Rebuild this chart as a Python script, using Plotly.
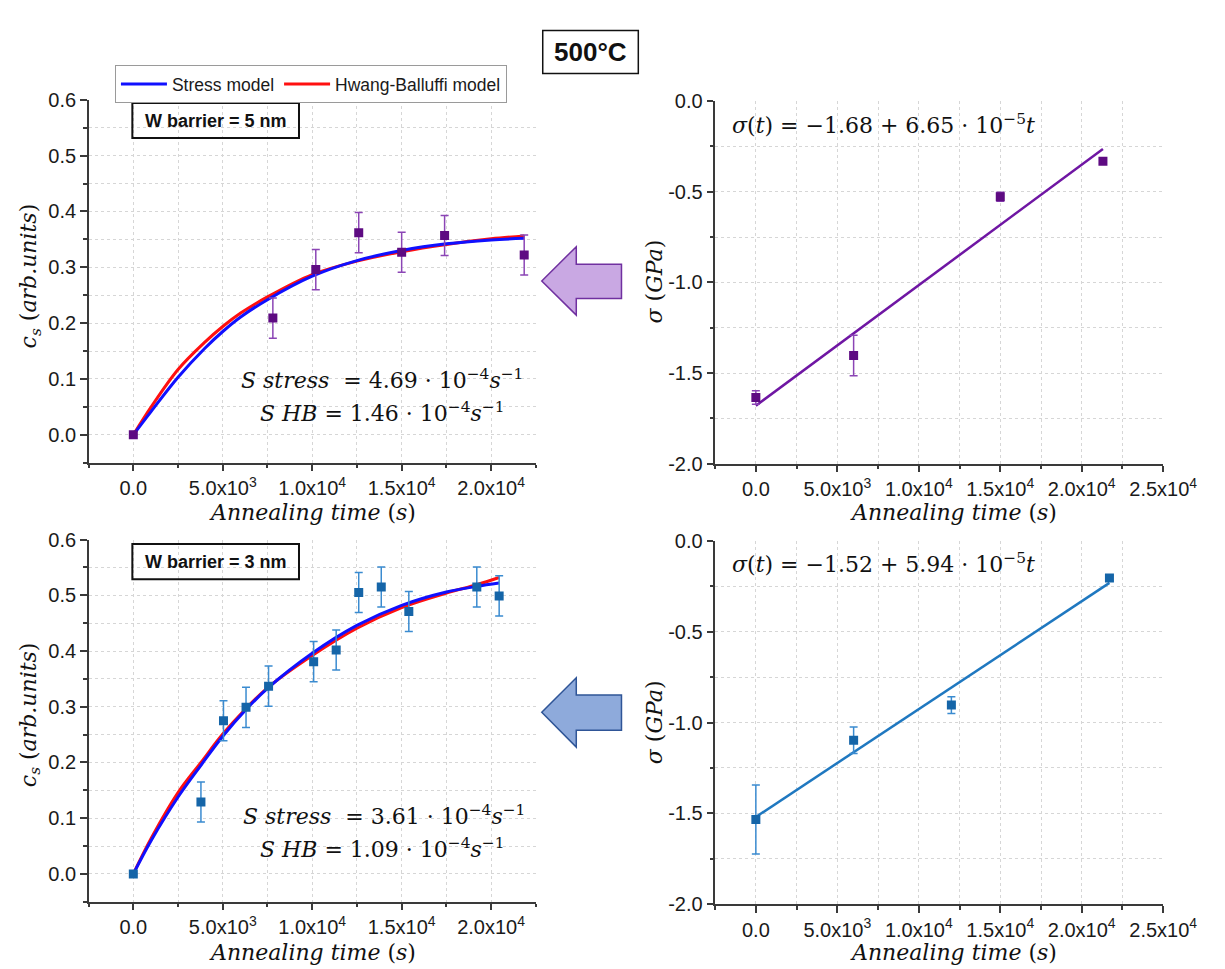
import plotly.graph_objects as go

# ---------------- data ----------------
# top-left: W barrier = 5 nm, c_s vs annealing time
tl_t = [0, 7800, 10200, 12600, 15000, 17400, 21850]
tl_c = [0.0, 0.209, 0.296, 0.362, 0.327, 0.357, 0.322]
tl_err = [0.0, 0.036, 0.036, 0.036, 0.036, 0.036, 0.036]
tl_model_t = [0, 1000, 2500, 4000, 5000, 6000, 7500, 10000, 12500, 15000, 17500, 20000, 21850]
tl_stress = [0.0, 0.042, 0.103, 0.155, 0.185, 0.211, 0.242, 0.284, 0.312, 0.330, 0.342, 0.349, 0.352]
tl_hb = [0.0, 0.050, 0.117, 0.166, 0.194, 0.218, 0.247, 0.287, 0.311, 0.328, 0.341, 0.351, 0.356]

# top-right: stress vs annealing time (5 nm)
tr_t = [0, 6000, 15000, 21300]
tr_sigma = [-1.635, -1.403, -0.528, -0.332]
tr_err = [0.037, 0.112, 0.025, 0.015]
tr_fit_t = [0, 21300]
tr_fit_sigma = [-1.68, -0.264]

# bottom-left: W barrier = 3 nm
bl_t = [0, 3780, 5040, 6300, 7560, 10080, 11340, 12600, 13860, 15400, 19200, 20450]
bl_c = [0.0, 0.129, 0.275, 0.299, 0.337, 0.381, 0.402, 0.505, 0.515, 0.471, 0.515, 0.499]
bl_err = [0.0, 0.036, 0.036, 0.036, 0.036, 0.036, 0.036, 0.036, 0.036, 0.036, 0.036, 0.036]
bl_model_t = [0, 1000, 2500, 3780, 5000, 6300, 7500, 10000, 12500, 15000, 17500, 19200, 20450]
bl_stress = [0.0, 0.060, 0.138, 0.195, 0.247, 0.295, 0.333, 0.396, 0.446, 0.482, 0.506, 0.516, 0.522]
bl_hb = [0.0, 0.064, 0.146, 0.200, 0.251, 0.297, 0.334, 0.392, 0.441, 0.478, 0.504, 0.519, 0.532]

# bottom-right: stress vs annealing time (3 nm)
br_t = [0, 6000, 12000, 21700]
br_sigma = [-1.534, -1.098, -0.904, -0.205]
br_err = [0.19, 0.073, 0.046, 0.015]
br_fit_t = [0, 21700]
br_fit_sigma = [-1.52, -0.231]

# tick labels
x_tickvals_left = [0, 5000, 10000, 15000, 20000]
x_ticktext_left = ["0.0", "5.0x10<sup>3</sup>", "1.0x10<sup>4</sup>", "1.5x10<sup>4</sup>", "2.0x10<sup>4</sup>"]
x_tickvals_right = [0, 5000, 10000, 15000, 20000, 25000]
x_ticktext_right = x_ticktext_left + ["2.5x10<sup>4</sup>"]
y_tickvals_left = [0.0, 0.1, 0.2, 0.3, 0.4, 0.5, 0.6]
y_ticktext_left = ["0.0", "0.1", "0.2", "0.3", "0.4", "0.5", "0.6"]
y_tickvals_right = [0.0, -0.5, -1.0, -1.5, -2.0]
y_ticktext_right = ["0.0", "-0.5", "-1.0", "-1.5", "-2.0"]

# ---------------- styling ----------------
W, H = 1225, 969
def px(x):
    return x / W
def py(y):
    return 1 - y / H

PURPLE_M = "#5e0b82"
PURPLE_E = "#8b45b5"
PURPLE_L = "#6f16a3"
BLUE_M = "#1565a8"
BLUE_E = "#3a8bd0"
BLUE_L = "#1f78c0"
C_STRESS = "#1010ff"
C_HB = "#ff1010"
SANS = "Liberation Sans, Arial, sans-serif"
SERIF = "DejaVu Serif, serif"

fig = go.Figure()

# top-left
fig.add_trace(go.Scatter(x=tl_model_t, y=tl_hb, mode="lines", line=dict(color=C_HB, width=3, shape="spline", smoothing=1.0),
                         name="Hwang-Balluffi model", legendrank=2, xaxis="x", yaxis="y"))
fig.add_trace(go.Scatter(x=tl_model_t, y=tl_stress, mode="lines", line=dict(color=C_STRESS, width=3, shape="spline", smoothing=1.0),
                         name="Stress model", legendrank=1, xaxis="x", yaxis="y"))
fig.add_trace(go.Scatter(x=tl_t, y=tl_c, mode="markers", marker=dict(symbol="square", size=9, color=PURPLE_M),
                         error_y=dict(type="data", array=tl_err, color=PURPLE_E, thickness=1.5, width=4),
                         showlegend=False, xaxis="x", yaxis="y"))
# top-right
fig.add_trace(go.Scatter(x=tr_fit_t, y=tr_fit_sigma, mode="lines", line=dict(color=PURPLE_L, width=2.5),
                         showlegend=False, xaxis="x2", yaxis="y2"))
fig.add_trace(go.Scatter(x=tr_t, y=tr_sigma, mode="markers", marker=dict(symbol="square", size=9, color=PURPLE_M),
                         error_y=dict(type="data", array=tr_err, color=PURPLE_E, thickness=1.5, width=4),
                         showlegend=False, xaxis="x2", yaxis="y2"))
# bottom-left
fig.add_trace(go.Scatter(x=bl_model_t, y=bl_hb, mode="lines", line=dict(color=C_HB, width=3, shape="spline", smoothing=1.0),
                         showlegend=False, xaxis="x3", yaxis="y3"))
fig.add_trace(go.Scatter(x=bl_model_t, y=bl_stress, mode="lines", line=dict(color=C_STRESS, width=3, shape="spline", smoothing=1.0),
                         showlegend=False, xaxis="x3", yaxis="y3"))
fig.add_trace(go.Scatter(x=bl_t, y=bl_c, mode="markers", marker=dict(symbol="square", size=9, color=BLUE_M),
                         error_y=dict(type="data", array=bl_err, color=BLUE_E, thickness=1.5, width=4),
                         showlegend=False, xaxis="x3", yaxis="y3"))
# bottom-right
fig.add_trace(go.Scatter(x=br_fit_t, y=br_fit_sigma, mode="lines", line=dict(color=BLUE_L, width=2.5),
                         showlegend=False, xaxis="x4", yaxis="y4"))
fig.add_trace(go.Scatter(x=br_t, y=br_sigma, mode="markers", marker=dict(symbol="square", size=9, color=BLUE_M),
                         error_y=dict(type="data", array=br_err, color=BLUE_E, thickness=1.5, width=4),
                         showlegend=False, xaxis="x4", yaxis="y4"))


def axis(domain, rng, tickvals, ticktext, minor_dtick, minor_tick0, anchor):
    return dict(
        domain=domain, range=rng, anchor=anchor,
        tickmode="array", tickvals=tickvals, ticktext=ticktext,
        showline=True, linecolor="#3a3a3a", linewidth=2,
        ticks="outside", ticklen=6.5, tickwidth=1.5, tickcolor="#3a3a3a",
        showgrid=False, zeroline=False,
        tickfont=dict(family=SANS, size=20, color="#1a1a1a"),
        minor=dict(ticks="outside", ticklen=3.5, tickwidth=1.5, tickcolor="#3a3a3a",
                   tickmode="linear", dtick=minor_dtick, tick0=minor_tick0,
                   showgrid=True, gridcolor="#d6d6d6", griddash="dot", gridwidth=1),
    )

xL = [px(82.9), px(542.9)]
xR = [px(727.3), px(1188.2)]
yTL = [py(454), py(82.7)]
yTR = [py(455), py(84)]
yBL = [py(903.3), py(532.7)]
yBR = [py(905.7), py(534)]

fig.update_layout(
    width=W, height=H, autosize=False,
    margin=dict(l=0, r=0, t=0, b=0),
    paper_bgcolor="white", plot_bgcolor="white",
    xaxis=axis(xL, [-2500, 22500], x_tickvals_left, x_ticktext_left, 2500, 0, "y"),
    yaxis=axis(yTL, [-0.05, 0.6], y_tickvals_left, y_ticktext_left, 0.05, 0, "x"),
    xaxis2=axis(xR, [-2500, 25000], x_tickvals_right, x_ticktext_right, 2500, 0, "y2"),
    yaxis2=axis(yTR, [-2.0, 0.0], y_tickvals_right, y_ticktext_right, 0.25, 0, "x2"),
    xaxis3=axis(xL, [-2500, 22500], x_tickvals_left, x_ticktext_left, 2500, 0, "y3"),
    yaxis3=axis(yBL, [-0.05, 0.6], y_tickvals_left, y_ticktext_left, 0.05, 0, "x3"),
    xaxis4=axis(xR, [-2500, 25000], x_tickvals_right, x_ticktext_right, 2500, 0, "y4"),
    yaxis4=axis(yBR, [-2.0, 0.0], y_tickvals_right, y_ticktext_right, 0.25, 0, "x4"),
    showlegend=True,
    legend=dict(orientation="h", x=px(110), y=py(47.3), xanchor="left", yanchor="top",
                bordercolor="#9a9a9a", borderwidth=1, bgcolor="white",
                font=dict(family=SANS, size=17.5, color="#1a1a1a"),
                itemwidth=46, tracegroupgap=0),
)

ann = []
def text(x, y, s, size=22, family=SERIF, angle=0, xanchor="center"):
    ann.append(dict(x=px(x), y=py(y), xref="paper", yref="paper", text=s, showarrow=False,
                    font=dict(family=family, size=size, color="#111111"), textangle=angle,
                    xanchor=xanchor, yanchor="middle"))

# axis titles
xtitle = "<i>Annealing time</i> (<i>s</i>)"
text(313, 505, xtitle)
text(972, 505, xtitle)
text(313, 955, xtitle)
text(972, 955, xtitle)
ytitle_c = "<i>c<sub>s</sub></i> (<i>arb.units</i>)"
text(23, 263, ytitle_c, angle=-90)
text(23, 712, ytitle_c, angle=-90)
ytitle_s = "<i>σ</i> (<i>GPa</i>)"
text(665, 269, ytitle_s, angle=-90)
text(665, 720, ytitle_s, angle=-90)

# model parameter labels
text(385, 368, "<i>S stress</i>  = 4.69 · 10<sup>−4</sup><i>s</i><sup>−1</sup>")
text(385, 402, "<i>S HB</i> = 1.46 · 10<sup>−4</sup><i>s</i><sup>−1</sup>")
text(387, 815, "<i>S stress</i>  = 3.61 · 10<sup>−4</sup><i>s</i><sup>−1</sup>")
text(385, 848, "<i>S HB</i> = 1.09 · 10<sup>−4</sup><i>s</i><sup>−1</sup>")

# fit equations
text(901, 107, "<i>σ</i>(<i>t</i>) = −1.68 + 6.65 · 10<sup>−5</sup><i>t</i>")
text(901, 557, "<i>σ</i>(<i>t</i>) = −1.52 + 5.94 · 10<sup>−5</sup><i>t</i>")

# boxed labels
text(599, 34, "<b>500°C</b>", size=26, family=SANS)
text(213.6, 104, "<b>W barrier = 5 nm</b>", size=18, family=SANS)
text(213.6, 555.3, "<b>W barrier = 3 nm</b>", size=18, family=SANS)

fig.update_layout(annotations=ann)

shapes = []
def rect(x0, y0, x1, y1, w=2):
    shapes.append(dict(type="rect", xref="paper", yref="paper", x0=px(x0), x1=px(x1), y0=py(y0), y1=py(y1),
                       line=dict(color="#111111", width=w), fillcolor="rgba(0,0,0,0)", layer="above"))

rect(550, 11.7, 648.3, 55.7, 1.5)
rect(127.9, 86, 299.3, 121.7, 2)
rect(127.9, 537.3, 299.3, 573.3, 2)

def arrow(tip_y, head_top, head_bot, shaft_top, shaft_bot, fill, line):
    pts = [(549, tip_y), (584.5, head_top), (584.5, shaft_top), (631, shaft_top),
           (631, shaft_bot), (584.5, shaft_bot), (584.5, head_bot)]
    path = "M " + " L ".join(f"{px(a):.5f},{py(b):.5f}" for a, b in pts) + " Z"
    shapes.append(dict(type="path", xref="paper", yref="paper", path=path,
                       fillcolor=fill, line=dict(color=line, width=1.5), layer="above"))

arrow(268, 233, 303, 251, 286, "#c9a8e3", "#7030a0")
arrow(709.3, 674, 745, 691.7, 727.7, "#8eaadb", "#2f5597")

fig.update_layout(shapes=shapes)

fig.write_html("out.html")
